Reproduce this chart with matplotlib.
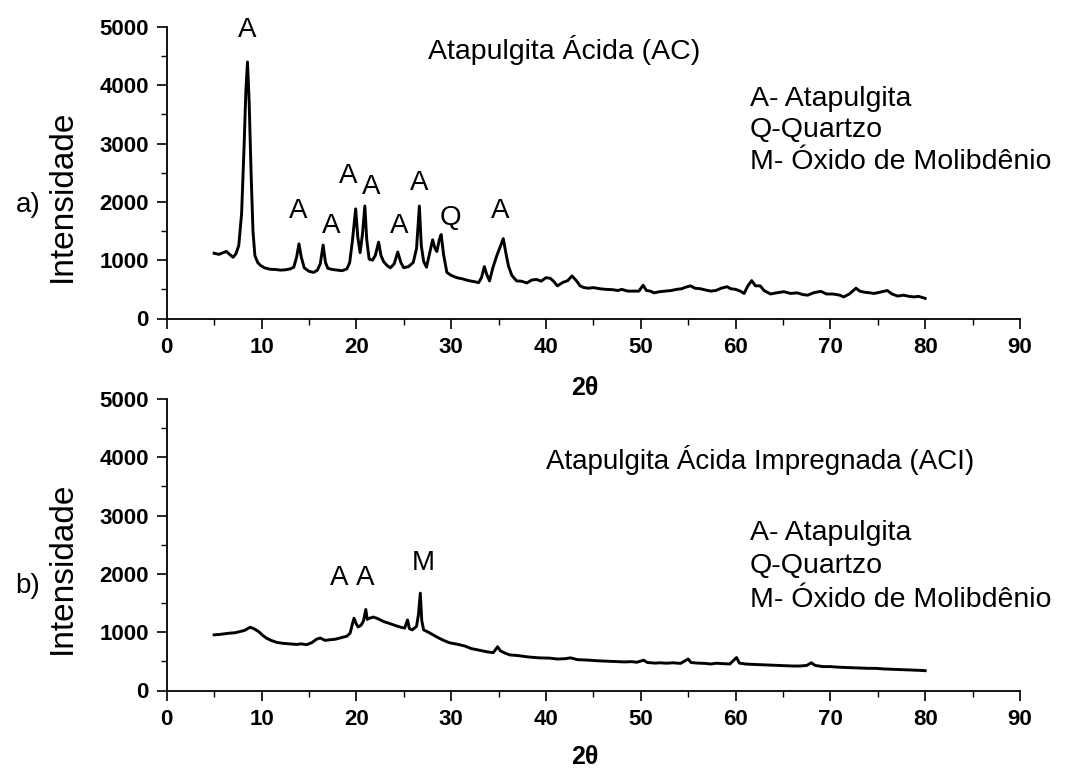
import matplotlib
matplotlib.use("Agg")
import matplotlib.pyplot as plt
from matplotlib.ticker import MultipleLocator
from matplotlib.transforms import blended_transform_factory

plt.rcParams['font.family'] = ['Liberation Sans', 'DejaVu Sans']

# ---- data: (a) Atapulgita Ácida (AC) ----
two_theta_a = [5.0, 5.5, 6.0, 6.3, 6.7, 7.0, 7.3, 7.6, 7.9, 8.15, 8.35, 8.52, 8.7, 8.9, 9.1, 9.3, 9.6, 9.9,
               10.3, 10.9, 11.5, 12.0, 12.5, 13.0, 13.4, 13.7, 13.95, 14.2, 14.5, 15.0, 15.5, 15.9, 16.2,
               16.5, 16.75, 17.0, 17.5, 18.0, 18.5, 19.0, 19.3, 19.6, 19.93, 20.15, 20.4, 20.65, 20.9, 21.1,
               21.35, 21.7, 22.0, 22.35, 22.6, 22.9, 23.3, 23.6, 24.0, 24.37, 24.7, 25.0, 25.5, 26.0, 26.35,
               26.65, 26.85, 27.1, 27.4, 27.7, 28.05, 28.3, 28.5, 28.75, 28.95, 29.2, 29.55, 30.0, 30.6,
               31.2, 31.6, 32.0, 32.5, 32.9, 33.2, 33.5, 33.75, 34.05, 34.4, 34.8, 35.1, 35.5, 35.8, 36.05,
               36.4, 36.9, 37.4, 38.0, 38.5, 39.0, 39.5, 40.0, 40.45, 40.8, 41.2, 41.8, 42.3, 42.75, 43.2,
               43.6, 44.0, 44.5, 45.0, 45.7, 46.3, 47.0, 47.6, 48.0, 48.6, 49.3, 49.8, 50.25, 50.6, 51.0,
               51.4, 52.0, 52.6, 53.2, 53.8, 54.3, 54.8, 55.25, 55.7, 56.3, 56.8, 57.4, 57.9, 58.5, 59.1,
               59.5, 60.0, 60.5, 60.9, 61.3, 61.7, 62.1, 62.6, 63.0, 63.7, 64.3, 65.1, 65.8, 66.5, 67.1,
               67.6, 68.3, 69.0, 69.6, 70.3, 71.0, 71.4, 72.0, 72.7, 73.1, 73.6, 74.2, 74.6, 75.2, 76.0,
               76.5, 77.1, 77.7, 78.3, 78.8, 79.3, 79.7, 80.0]
intensity_a = [1120, 1100, 1130, 1150, 1090, 1050, 1110, 1250, 1800, 2900, 3900, 4400, 3700, 2500, 1500, 1080, 960, 910,
               870, 845, 840, 830, 835, 850, 880, 1050, 1280, 1050, 870, 810, 790, 830, 940,
               1260, 960, 860, 840, 830, 820, 850, 960, 1350, 1880, 1400, 1130, 1450, 1930, 1350,
               1020, 1000, 1080, 1310, 1080, 970, 900, 870, 940, 1140, 960, 870, 890, 960, 1200,
               1930, 1250, 980, 880, 1100, 1350, 1200, 1150, 1350, 1440, 1100, 790, 740, 700,
               680, 660, 645, 630, 615, 700, 890, 760, 645, 870, 1070, 1200, 1370, 1100, 900,
               740, 645, 640, 610, 660, 670, 640, 700, 690, 640, 560, 620, 650, 730, 650,
               560, 530, 520, 530, 510, 500, 495, 480, 500, 470, 470, 470, 570, 480, 470,
               440, 460, 470, 480, 500, 510, 540, 560, 520, 510, 490, 470, 480, 520, 545,
               510, 500, 470, 430, 560, 650, 560, 560, 480, 420, 440, 460, 430, 440, 410,
               400, 445, 465, 420, 420, 400, 370, 420, 520, 470, 450, 440, 430, 450, 480,
               420, 385, 400, 380, 370, 380, 360, 345]

# ---- data: (b) Atapulgita Ácida Impregnada (ACI) ----
two_theta_b = [5.0, 5.5, 6.0, 6.7, 7.2, 7.7, 8.2, 8.8, 9.2, 9.7, 10.1, 10.5, 11.0, 11.6, 12.2, 13.0, 13.7, 14.2,
               14.75, 15.3, 15.8, 16.2, 16.7, 17.2, 17.8, 18.6, 19.0, 19.35, 19.6, 19.76, 20.0, 20.2, 20.5,
               20.75, 21.0, 21.15, 21.4, 21.8, 22.3, 22.85, 23.5, 24.2, 24.7, 25.1, 25.4, 25.6, 25.9, 26.35,
               26.55, 26.75, 26.9, 27.1, 27.6, 28.1, 28.7, 29.2, 29.8, 30.4, 30.9, 31.5, 32.1, 32.7, 33.3,
               33.9, 34.45, 34.9, 35.2, 35.7, 36.2, 37.0, 37.9, 38.5, 39.3, 40.4, 41.2, 42.0, 42.6, 43.3,
               43.9, 44.6, 45.4, 46.2, 47.0, 47.5, 48.3, 49.0, 49.6, 50.3, 50.7, 51.5, 52.0, 52.7, 53.4,
               54.2, 55.0, 55.3, 56.0, 56.8, 57.4, 58.0, 58.7, 59.4, 60.1, 60.4, 61.0, 61.5, 62.2, 63.0,
               63.8, 64.5, 65.3, 66.0, 66.8, 67.5, 68.0, 68.4, 69.2, 70.0, 70.8, 71.6, 72.4, 73.2, 74.0,
               74.8, 75.6, 76.4, 77.2, 78.0, 78.8, 79.5, 80.0]
intensity_b = [955, 960, 970, 985, 990, 1010, 1030, 1085, 1060, 1010, 950, 900, 860, 825, 810, 800, 790, 800,
               785, 820, 880, 900, 860, 870, 880, 915, 930, 985, 1150, 1240, 1140, 1090, 1120,
               1190, 1390, 1220, 1240, 1260, 1230, 1185, 1150, 1110, 1085, 1070, 1210, 1060, 1040, 1100,
               1300, 1670, 1200, 1040, 1000, 955, 900, 860, 820, 800, 785, 760, 720, 700, 680,
               660, 650, 750, 680, 640, 610, 600, 580, 570, 560, 555, 540, 545, 560, 530,
               525, 520, 510, 505, 500, 495, 490, 495, 485, 520, 480, 470, 475, 468, 475,
               465, 540, 480, 470, 465, 455, 468, 460, 455, 565, 470, 455, 450, 445, 440,
               435, 430, 425, 420, 420, 430, 475, 430, 410, 410, 400, 395, 390, 385, 380,
               380, 370, 365, 360, 355, 350, 345, 340]

# peak labels (letter, 2theta, intensity position)
labels_a = [("A", 8.5, 4950), ("A", 13.85, 1840), ("A", 17.4, 1580), ("A", 19.15, 2440),
            ("A", 21.6, 2250), ("A", 24.5, 1580), ("A", 26.65, 2330), ("Q", 29.9, 1730),
            ("A", 35.2, 1840)]
labels_b = [("A", 18.2, 1930), ("A", 20.9, 1930), ("M", 27.05, 2180)]

legend_lines = ["A- Atapulgita", "Q-Quartzo", "M- Óxido de Molibdênio"]
title_a = "Atapulgita Ácida (AC)"
title_b = "Atapulgita Ácida Impregnada (ACI)"

W, H = 1075, 769
fig = plt.figure(figsize=(W / 100, H / 100), dpi=100)
fig.patch.set_facecolor('white')

def px_axes(left, right, top, bottom):
    return fig.add_axes([left / W, 1 - bottom / H, (right - left) / W, (bottom - top) / H])

ax_a = px_axes(166.7, 1020, 27, 318.5)
ax_b = px_axes(166.7, 1020, 399, 690.5)

for ax, x, y in [(ax_a, two_theta_a, intensity_a), (ax_b, two_theta_b, intensity_b)]:
    ax.plot(x, y, color='black', linewidth=2.1, solid_joinstyle='round')
    ax.set_xlim(0, 90)
    ax.set_ylim(0, 5000)
    ax.spines['top'].set_visible(False)
    ax.spines['right'].set_visible(False)
    ax.spines['left'].set_linewidth(1.3)
    ax.spines['bottom'].set_linewidth(1.3)
    ax.xaxis.set_major_locator(MultipleLocator(10))
    ax.xaxis.set_minor_locator(MultipleLocator(5))
    ax.yaxis.set_major_locator(MultipleLocator(1000))
    ax.yaxis.set_minor_locator(MultipleLocator(500))
    ax.tick_params(which='major', direction='out', length=7, width=1.2, labelsize=16, pad=6)
    ax.tick_params(which='minor', direction='out', length=4, width=1.0)
    for lab in ax.get_xticklabels() + ax.get_yticklabels():
        lab.set_fontweight('bold')

# peak letters
for ax, labs in [(ax_a, labels_a), (ax_b, labels_b)]:
    for letter, xx, yy in labs:
        ax.text(xx, yy, letter, ha='center', va='center', fontsize=20)

# titles and legends
ax_a.text(27.6, 4600, title_a, ha='left', va='center', fontsize=20.5)
ax_b.text(40.0, 3950, title_b, ha='left', va='center', fontsize=20)
for i, line in enumerate(legend_lines):
    ax_a.text(61.5, 3770 - i * 545, line, ha='left', va='center', fontsize=20.5)
    ax_b.text(61.5, 2700 - i * 570, line, ha='left', va='center', fontsize=20.5)

# y labels and panel letters
for ax, letter, ylab_y in [(ax_a, "a)", 1950), (ax_b, "b)", 1800)]:
    tr = blended_transform_factory(fig.transFigure, ax.transData)
    ax.text(28 / W, ylab_y, letter, transform=tr, ha='center', va='center', fontsize=20)
    ax.text(62 / W, 2100, "Intensidade", transform=tr, ha='center', va='center',
            rotation=90, fontsize=24)

# x labels
fig.text(585 / W, 1 - 388 / H, "2θ", ha='center', va='center', fontsize=18, fontweight='bold')
fig.text(585 / W, 1 - 757 / H, "2θ", ha='center', va='center', fontsize=18, fontweight='bold')

fig.savefig("out.png", dpi=100, facecolor='white')
